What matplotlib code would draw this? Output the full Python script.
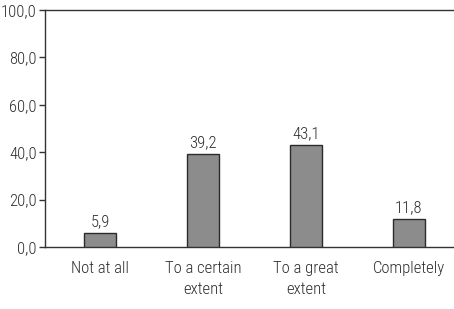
import matplotlib.pyplot as plt
from matplotlib import font_manager

categories = ["Not at all", "To a certain\nextent", "To a great\nextent", "Completely"]
values = [5.9, 39.2, 43.1, 11.8]
yticks = [0, 20, 40, 60, 80, 100]

# pick a condensed face, the reference uses a narrow light sans
names = {f.name for f in font_manager.fontManager.ttflist}
for fam in ["Roboto Condensed", "Open Sans Condensed", "Archivo Narrow", "Asap Condensed", "DejaVu Sans"]:
    if fam in names:
        break
plt.rcParams["font.family"] = [fam, "DejaVu Sans"]
plt.rcParams["font.stretch"] = "condensed"
plt.rcParams["font.weight"] = "light"

TXT = "#2e2e2e"


def main():
    fig = plt.figure(figsize=(4.54, 3.09), dpi=100)
    ax = fig.add_axes([45 / 454, 1 - 247 / 309, 1 - 45 / 454, 237 / 309])

    x = list(range(len(categories)))
    ax.bar(x, values, width=0.31, color="#8c8c8c", edgecolor="#2b2b2b", linewidth=1.0, zorder=3)
    for xi, v in zip(x, values):
        ax.text(xi, v + 1.5, f"{v:.1f}".replace(".", ","), ha="center", va="bottom",
                fontsize=12, color=TXT)

    ax.set_xlim(-0.534, 3.44)
    ax.set_ylim(0, 100)
    ax.set_yticks(yticks)
    ax.set_yticklabels([f"{t:.1f}".replace(".", ",") for t in yticks], fontsize=12, color=TXT)
    ax.set_xticks(x)
    ax.set_xticklabels(categories, fontsize=12, color=TXT, linespacing=1.55)
    ax.tick_params(axis="x", length=0, pad=10)
    ax.tick_params(axis="y", length=4, width=1, color="#333333", pad=2)

    ax.spines["right"].set_visible(False)
    for s in ["left", "top", "bottom"]:
        ax.spines[s].set_color("#333333")
        ax.spines[s].set_linewidth(1.0)

    fig.savefig("out.png", dpi=100)


if __name__ == "__main__":
    main()
